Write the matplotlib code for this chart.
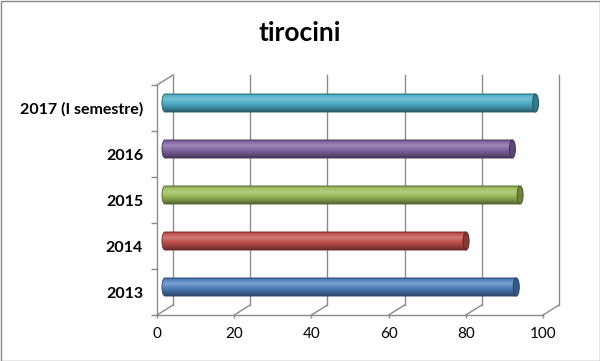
import numpy as np
import matplotlib.pyplot as plt
from matplotlib.path import Path
from matplotlib.patches import PathPatch, Ellipse, Rectangle
from matplotlib.colors import to_rgb

# dati
anni = ['2013', '2014', '2015', '2016', '2017 (I semestre)']
valori = [91, 78, 92, 90, 96]
colori = ['#4F81BD', '#C0504D', '#9BBB59', '#8064A2', '#4BACC6']
xticks = [0, 20, 40, 60, 80, 100]

plt.rcParams['font.family'] = ['Lato', 'DejaVu Sans']

W, H = 600, 361
fig = plt.figure(figsize=(W/100, H/100), dpi=100)
ax = fig.add_axes([157/W, 46/H, 386/W, 230/H])
ax.patch.set_visible(False)

# one pixel in data units
px_x = 100/386
px_y = 5/230
dxb, dyb = 16*px_x, 10*px_y   # back wall offset
dxm, dym = 8*px_x, 5*px_y     # middle depth (bars)

grid = '#8a8a8a'

# back wall gridlines + floor diagonals
for xv in xticks:
    ax.plot([xv+dxb, xv+dxb], [dyb, 5+dyb], color=grid, lw=1, clip_on=False, zorder=1)
    ax.plot([xv, xv+dxb], [0, dyb], color=grid, lw=1, clip_on=False, zorder=1)
# left wall top diagonal
ax.plot([0, dxb], [5, 5+dyb], color=grid, lw=1, clip_on=False, zorder=1)


def shade(c, f):
    c = np.array(to_rgb(c))
    if f >= 0:
        return c + (1-c)*f
    return c*(1+f)


# cylinders
h = 18*px_y
w = 6*px_x
t = np.linspace(0, 1, 64)
prof = np.interp(t, [0, 0.08, 0.3, 0.55, 0.85, 1.0], [-0.2, 0.0, 0.25, 0.0, -0.28, -0.5])
for i, (v, c) in enumerate(zip(valori, colori)):
    yc = i + 0.5 + dym
    x0 = dxm
    xe = v + dxm
    th = np.linspace(-np.pi/2, -3*np.pi/2, 40)
    verts = [(xe, yc-h/2)]
    verts += list(zip(x0 + w/2*np.cos(th), yc + h/2*np.sin(th)))
    verts += [(xe, yc+h/2), (xe, yc-h/2)]
    body = PathPatch(Path(verts, closed=True), facecolor='none', edgecolor='none')
    ax.add_patch(body)
    img = np.array([shade(c, f) for f in prof]).reshape(-1, 1, 3)
    im = ax.imshow(img, extent=[x0-w/2, xe, yc-h/2, yc+h/2], aspect='auto',
                   origin='upper', interpolation='bilinear', zorder=3)
    im.set_clip_path(body)
    ax.add_patch(PathPatch(Path(verts, closed=True), facecolor='none',
                           edgecolor=shade(c, -0.4), lw=0.7, zorder=4))
    ax.add_patch(Ellipse((xe, yc), w, h, facecolor=shade(c, -0.3),
                         edgecolor=shade(c, -0.5), lw=0.7, zorder=5))

ax.set_xlim(0, 100)
ax.set_ylim(0, 5)

for s in ['top', 'right']:
    ax.spines[s].set_visible(False)
for s in ['left', 'bottom']:
    ax.spines[s].set_color(grid)
    ax.spines[s].set_linewidth(1)

ax.set_xticks(xticks)
ax.tick_params(axis='x', length=2.5, width=1, color=grid, pad=6.5, labelsize=11)
ax.set_yticks(range(6))
ax.set_yticklabels([])
ax.tick_params(axis='y', which='major', length=4, width=1, color=grid)
ax.set_yticks(np.arange(5)+0.5, minor=True)
ax.set_yticklabels(anni, minor=True, fontweight='bold', fontsize=11.5)
ax.tick_params(axis='y', which='minor', length=0, pad=10)

fig.text(0.5, 1-33/H, 'tirocini', ha='center', va='center', fontsize=19, fontweight='bold')

fig.patches.append(Rectangle((0.5/W, 0.5/H), 1-1/W, 1-1/H, transform=fig.transFigure,
                             fill=False, edgecolor='#898989', lw=1))

fig.savefig('out.png', dpi=100)
